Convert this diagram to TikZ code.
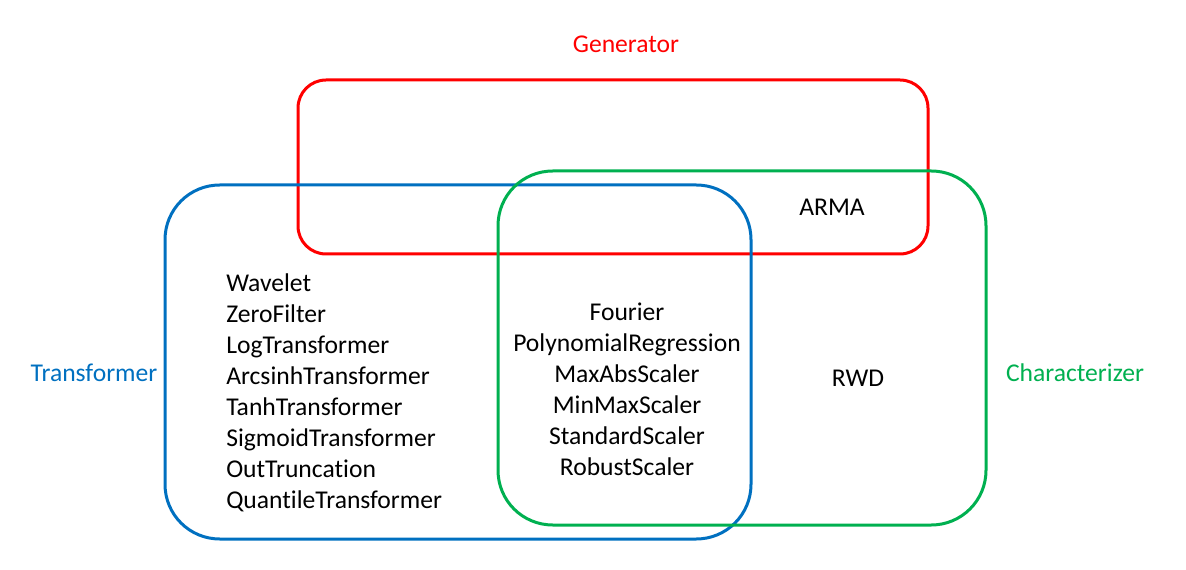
\documentclass[tikz,border=0pt]{standalone}
\usepackage{fontspec}
\setmainfont[Ligatures=NoCommon]{Carlito}
\usetikzlibrary{positioning}
\definecolor{genred}{HTML}{FF0000}
\definecolor{transblue}{HTML}{0070C0}
\definecolor{chargreen}{HTML}{00B050}

\tikzstyle{group}=[rectangle,draw,line width=2.25pt,inner sep=0pt,outer sep=0pt]
\tikzstyle{label}=[inner sep=0pt,font=\fontsize{19.2}{23.25}\selectfont]
\tikzstyle{list}=[label,align=center]

\begin{document}
\begin{tikzpicture}[x=0.75pt,y=-0.75pt]
\useasboundingbox (0,0) rectangle (1186,570);
\node [group,genred,rounded corners=21pt,minimum width=472.5pt,minimum height=130.5pt] (gen) at (613,167) {};
\node [group,transblue,rounded corners=41pt,minimum width=439.5pt,minimum height=265.5pt] (trans) at (458,362) {};
\node [group,chargreen,rounded corners=41pt,minimum width=366pt,minimum height=265.5pt] (char) at (742,348) {};
\node [label,text=genred] (genlabel) at (626,44) {Generator};
\node [label,text=transblue] (translabel) at (94,373) {Transformer};
\node [label,text=chargreen] (charlabel) at (1075,373) {Characterizer};
\node [label] (arma) at (832,207) {ARMA};
\node [label] (rwd) at (858,378) {RWD};
\node [list,align=left,anchor=west] (translist) at (226,393) {Wavelet\\ZeroFilter\\LogTransformer\\ArcsinhTransformer\\TanhTransformer\\SigmoidTransformer\\OutTruncation\\QuantileTransformer};
\node [list] (bothlist) at (627,389) {Fourier\\PolynomialRegression\\MaxAbsScaler\\MinMaxScaler\\StandardScaler\\RobustScaler};
\end{tikzpicture}
\end{document}
